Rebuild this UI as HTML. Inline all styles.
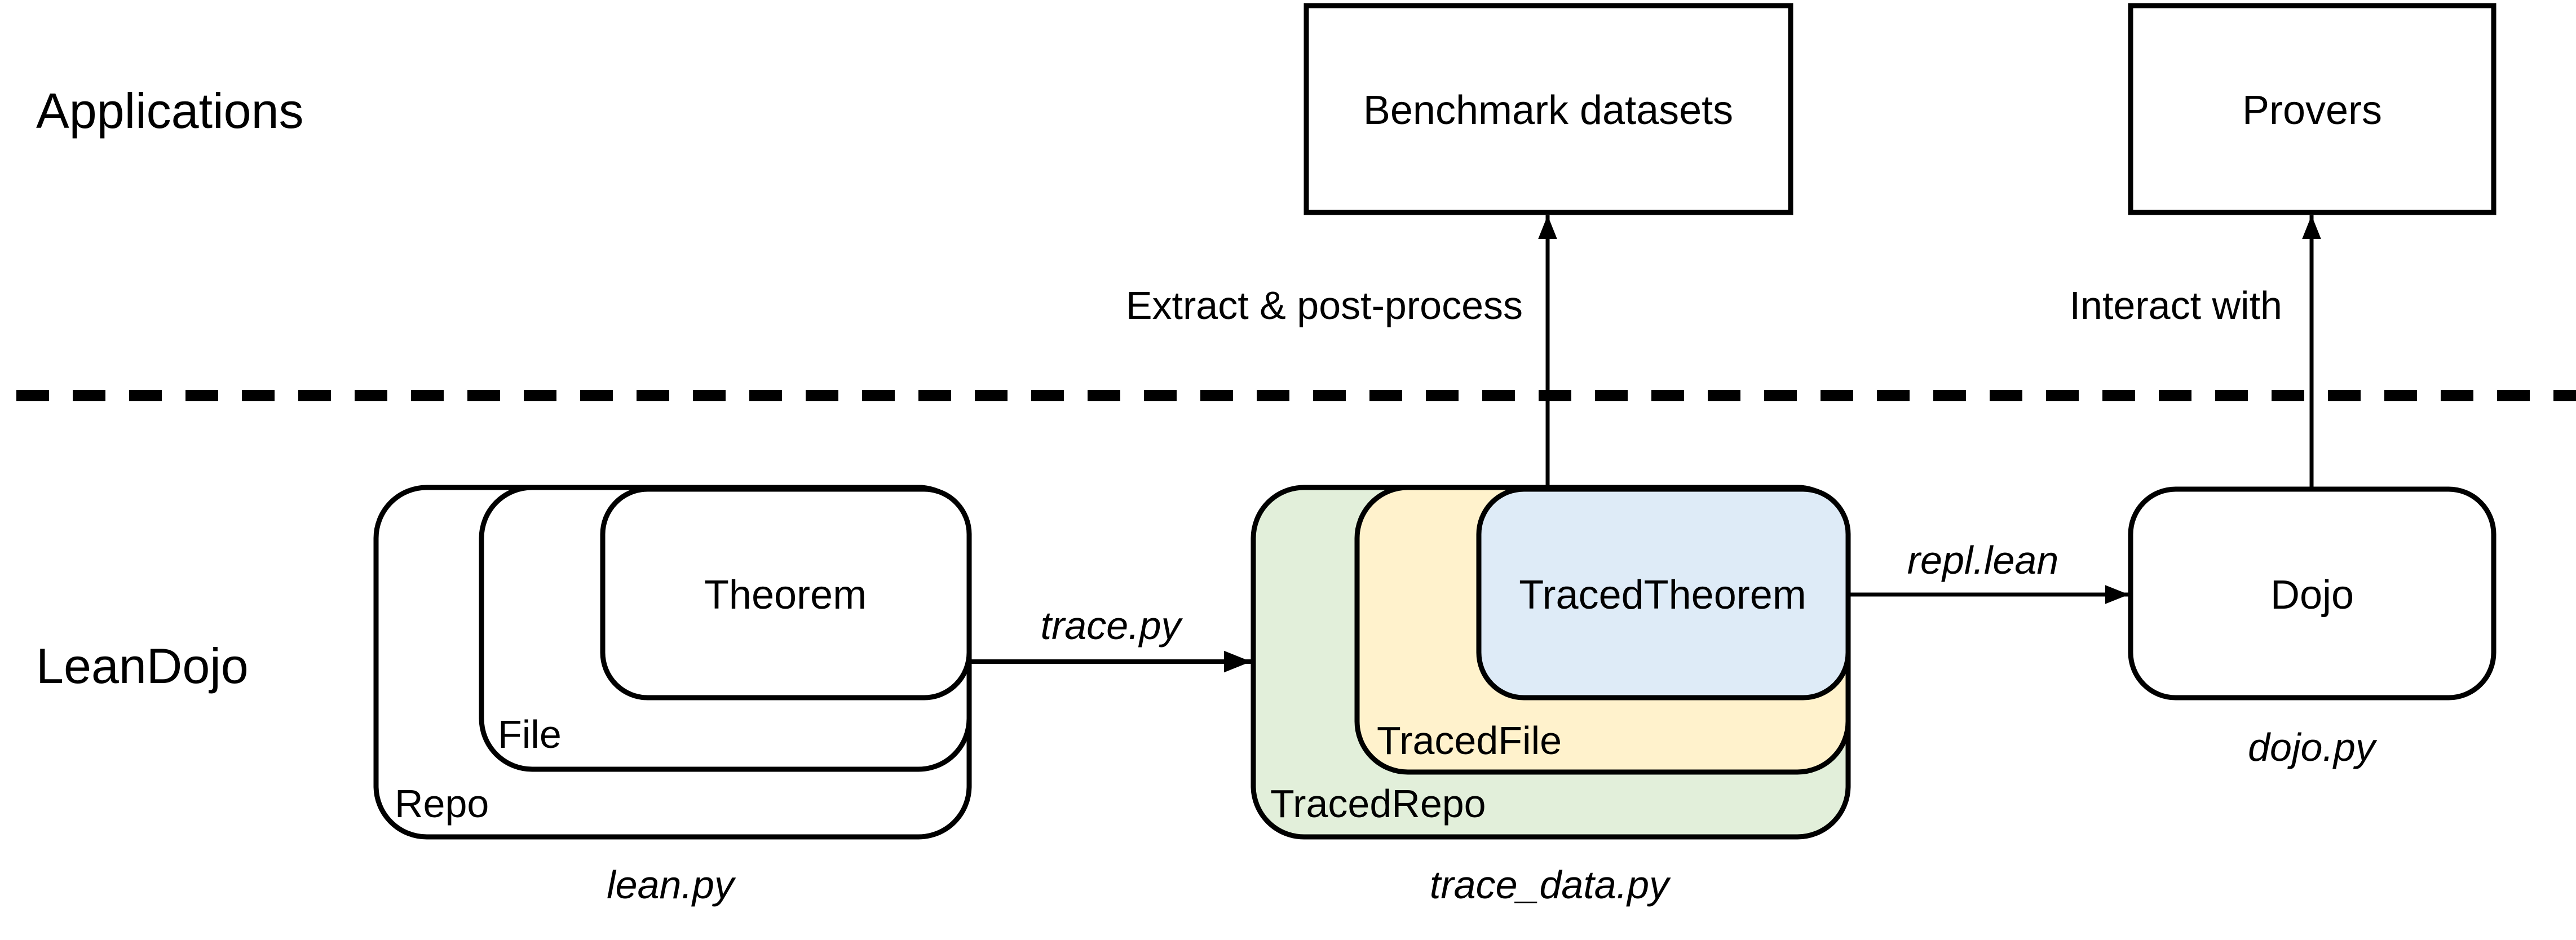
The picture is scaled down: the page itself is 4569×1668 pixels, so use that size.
<!DOCTYPE html>
<html><head><meta charset="utf-8"><style>
html,body{margin:0;padding:0;background:#fff;}
svg{display:block;}
text{font-family:"Liberation Sans",sans-serif;fill:#000;}
</style></head><body>
<svg width="4569" height="1668" viewBox="0 0 4569 1668" xmlns="http://www.w3.org/2000/svg">
<defs>
<marker id="ah" markerWidth="6" markerHeight="6" refX="6" refY="3" orient="auto" markerUnits="strokeWidth">
<path d="M0,0.6 L6,3 L0,5.4 z" fill="#000"/>
</marker>
</defs>
<text x="64" y="227" font-size="88">Applications</text>
<text x="64" y="1212" font-size="88">LeanDojo</text>
<line x1="29" y1="702" x2="4569" y2="702" stroke="#000" stroke-width="20" stroke-dasharray="58,42"/>

<rect x="2317" y="10" width="859" height="367" fill="#fff" stroke="#000" stroke-width="9"/>
<text x="2746" y="220" font-size="72" text-anchor="middle">Benchmark datasets</text>
<rect x="3779" y="10" width="644" height="367" fill="#fff" stroke="#000" stroke-width="9"/>
<text x="4101" y="220" font-size="72" text-anchor="middle">Provers</text>

<line x1="2745" y1="866" x2="2745" y2="382" stroke="#000" stroke-width="7" marker-end="url(#ah)"/>
<text x="2701" y="566" font-size="70" text-anchor="end">Extract &amp; post-process</text>
<line x1="4100" y1="866" x2="4100" y2="382" stroke="#000" stroke-width="7" marker-end="url(#ah)"/>
<text x="4048" y="566" font-size="70" text-anchor="end">Interact with</text>

<rect x="667" y="865" width="1052" height="620" rx="90" fill="#fff" stroke="#000" stroke-width="9"/>
<rect x="854" y="865" width="865" height="500" rx="90" fill="#fff" stroke="#000" stroke-width="9"/>
<rect x="1069" y="868" width="650" height="370" rx="80" fill="#fff" stroke="#000" stroke-width="9"/>
<text x="1393" y="1080" font-size="72" text-anchor="middle">Theorem</text>
<text x="883" y="1327" font-size="70">File</text>
<text x="700" y="1450" font-size="70">Repo</text>
<text x="1189" y="1594" font-size="70" text-anchor="middle" font-style="italic">lean.py</text>

<line x1="1719" y1="1174" x2="2219" y2="1174" stroke="#000" stroke-width="8" marker-end="url(#ah)"/>
<text x="1970" y="1134" font-size="70" text-anchor="middle" font-style="italic">trace.py</text>

<rect x="2223" y="865" width="1055" height="620" rx="90" fill="#e2efda" stroke="#000" stroke-width="9"/>
<rect x="2407" y="865" width="871" height="505" rx="90" fill="#fff2cc" stroke="#000" stroke-width="9"/>
<rect x="2623" y="868" width="655" height="370" rx="80" fill="#deebf7" stroke="#000" stroke-width="9"/>
<text x="2949" y="1080" font-size="72" text-anchor="middle">TracedTheorem</text>
<text x="2442" y="1338" font-size="70">TracedFile</text>
<text x="2253" y="1450" font-size="70">TracedRepo</text>
<text x="2748" y="1594" font-size="70" text-anchor="middle" font-style="italic">trace_data.py</text>

<line x1="3278" y1="1055" x2="3776" y2="1055" stroke="#000" stroke-width="7" marker-end="url(#ah)"/>
<text x="3517" y="1018" font-size="70" text-anchor="middle" font-style="italic">repl.lean</text>

<rect x="3779" y="868" width="644" height="370" rx="80" fill="#fff" stroke="#000" stroke-width="9"/>
<text x="4101" y="1080" font-size="72" text-anchor="middle">Dojo</text>
<text x="4100" y="1350" font-size="70" text-anchor="middle" font-style="italic">dojo.py</text>
</svg>
</body></html>
